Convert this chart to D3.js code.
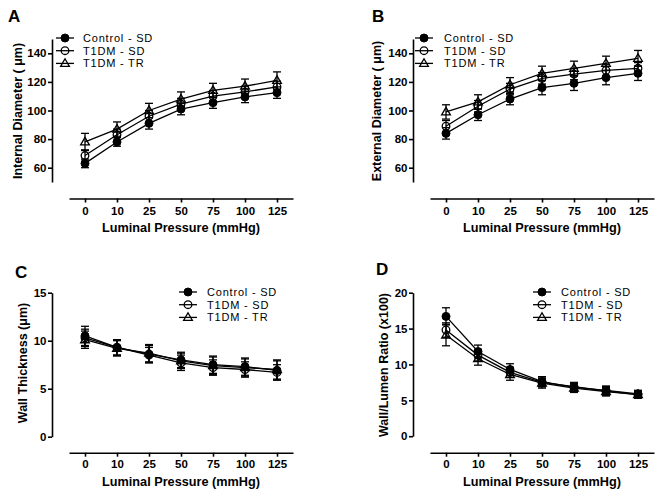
<!DOCTYPE html>
<html><head><meta charset="utf-8">
<script src="https://cdn.jsdelivr.net/npm/d3@7"></script>
<style>body{margin:0;background:#fff}svg{display:block}</style>
</head><body><svg id="c" width="662" height="499"></svg>
<script>
const pressures = ["0","10","25","50","75","100","125"];
const seriesNames = ["Control - SD","T1DM - SD","T1DM - TR"];

// A: Internal diameter (µm)
const idCtrl = [63, 78, 91, 101, 105.5, 109.5, 112.5];
const idSD   = [68.5, 83, 96, 104.5, 110, 113, 116.5];
const idTR   = [78, 87, 100, 108, 114, 117, 121];
const idCtrlErr = [3, 3, 4, 4, 4, 4, 4];
const idSDErr   = [4, 4, 4, 4, 4, 4, 4];
const idTRErr   = [6, 5, 5, 5, 5, 5, 6];

// B: External diameter (µm)
const edCtrl = [84, 97, 108, 116, 119, 123, 126];
const edSD   = [89, 103, 115, 122.5, 125.5, 128, 129.5];
const edTR   = [99, 106, 118, 126, 129.5, 133, 136.5];
const edCtrlErr = [4, 4, 4, 5, 5, 5, 5];
const edSDErr   = [4, 4, 4, 4, 4, 4, 4];
const edTRErr   = [5, 5, 5, 5, 5, 5, 5.5];

// C: Wall thickness (µm)
const wtCtrl = [10.5, 9.3, 8.6, 8.0, 7.5, 7.3, 6.9];
const wtSD   = [10.3, 9.3, 8.5, 7.7, 7.2, 7.0, 6.7];
const wtTR   = [10.1, 9.2, 8.7, 7.9, 7.4, 7.2, 7.0];
const wtCtrlErr = [1.0, 0.8, 0.9, 0.8, 0.9, 0.9, 1.0];
const wtSDErr   = [0.9, 0.8, 0.8, 0.8, 0.8, 0.8, 0.8];
const wtTRErr   = [0.9, 0.8, 0.9, 0.8, 0.9, 0.9, 1.0];

// D: Wall/Lumen ratio (x100)
const wlCtrl = [16.7, 11.8, 9.3, 7.6, 6.8, 6.4, 5.9];
const wlSD   = [14.8, 11.3, 8.9, 7.5, 6.9, 6.3, 5.8];
const wlTR   = [14.1, 10.8, 8.6, 7.4, 6.7, 6.2, 5.8];
const wlCtrlErr = [1.2, 0.9, 0.8, 0.7, 0.6, 0.6, 0.5];
const wlSDErr   = [1.0, 0.8, 0.7, 0.6, 0.6, 0.6, 0.5];
const wlTRErr   = [1.5, 0.9, 0.8, 0.7, 0.6, 0.6, 0.5];

const yTicksDiam = [60, 80, 100, 120, 140];
const yTicksWT = [0, 5, 10, 15];
const yTicksWL = [0, 5, 10, 15, 20];

const FONT = "Arial, 'Liberation Sans', sans-serif";
const svg = d3.select("#c");

const panels = [
  {label:"A", axX:52, xRange:[69,293], yRange:[182,39], yDomain:[50,150], yTicks:yTicksDiam,
   xAxisY:198.5, ytitle:"Internal Diameter  ( \u03bcm)", ytX:22, ytY:111, xtX:181, xtY:232, tickLabY:215,
   series:[[idCtrl,idCtrlErr],[idSD,idSDErr],[idTR,idTRErr]], leg:{x:65, y:38, tx:83}, labX:8, labY:22},
  {label:"B", axX:413, xRange:[430,654], yRange:[182,39], yDomain:[50,150], yTicks:yTicksDiam,
   xAxisY:198.5, ytitle:"External Diameter ( \u03bcm)", ytX:381, ytY:111, xtX:542, xtY:232, tickLabY:215,
   series:[[edCtrl,edCtrlErr],[edSD,edSDErr],[edTR,edTRErr]], leg:{x:424, y:38, tx:444}, labX:372, labY:22},
  {label:"C", axX:52, xRange:[69,293], yRange:[436.7,292.7], yDomain:[0,15], yTicks:yTicksWT,
   xAxisY:452.7, ytitle:"Wall Thickness (\u03bcm)", ytX:26.5, ytY:363, xtX:181, xtY:486, tickLabY:468,
   series:[[wtCtrl,wtCtrlErr],[wtSD,wtSDErr],[wtTR,wtTRErr]], leg:{x:188, y:292, tx:207}, labX:15, labY:278},
  {label:"D", axX:413, xRange:[430,654], yRange:[436.2,292.7], yDomain:[0,20], yTicks:yTicksWL,
   xAxisY:452.7, ytitle:"Wall/Lumen Ratio  (x100)", ytX:387.5, ytY:365, xtX:542, xtY:486, tickLabY:468,
   series:[[wlCtrl,wlCtrlErr],[wlSD,wlSDErr],[wlTR,wlTRErr]], leg:{x:542, y:292, tx:561}, labX:376, labY:275}
];

function drawMarker(g, kind, cx, cy) {
  if (kind === 0) {
    g.append("circle").attr("cx",cx).attr("cy",cy).attr("r",4).attr("fill","#000").attr("stroke","#000").attr("stroke-width",1);
  } else if (kind === 1) {
    g.append("circle").attr("cx",cx).attr("cy",cy).attr("r",3.8).attr("fill","none").attr("stroke","#000").attr("stroke-width",1.3);
  } else {
    const s = 4.6;
    g.append("path").attr("d", `M${cx},${cy-s}L${cx+s*0.95},${cy+s*0.65}L${cx-s*0.95},${cy+s*0.65}Z`)
      .attr("fill","none").attr("stroke","#000").attr("stroke-width",1.3);
  }
}

panels.forEach(p => {
  const g = svg.append("g");
  const x = d3.scalePoint().domain(pressures).range(p.xRange).padding(0.5);
  const y = d3.scaleLinear().domain(p.yDomain).range(p.yRange);

  // y axis
  const ya = g.append("g").attr("transform",`translate(${p.axX},0)`)
    .call(d3.axisLeft(y).tickValues(p.yTicks).tickSize(4).tickSizeOuter(0).tickFormat(d3.format("d")));
  ya.select(".domain").attr("stroke","#000").attr("stroke-width",1.6);
  ya.selectAll(".tick line").attr("stroke","#000").attr("stroke-width",1.6);
  ya.selectAll(".tick text").attr("font-family",FONT).attr("font-size",11.5).attr("font-weight","bold").attr("fill","#000").attr("x",-5.5);

  // x axis
  const xa = g.append("g").attr("transform",`translate(0,${p.xAxisY})`)
    .call(d3.axisBottom(x).tickSize(4).tickSizeOuter(0));
  xa.select(".domain").attr("stroke","#000").attr("stroke-width",1.6);
  xa.selectAll(".tick line").attr("stroke","#000").attr("stroke-width",1.6);
  xa.selectAll(".tick text").attr("font-family",FONT).attr("font-size",11.5).attr("font-weight","bold").attr("fill","#000")
    .attr("dy",null).attr("y", p.tickLabY - p.xAxisY);

  // titles
  g.append("text").attr("x",p.xtX).attr("y",p.xtY).attr("text-anchor","middle")
    .attr("font-family",FONT).attr("font-size",12.7).attr("font-weight","bold").text("Luminal Pressure (mmHg)");
  g.append("text").attr("transform",`translate(${p.ytX},${p.ytY}) rotate(-90)`).attr("text-anchor","middle")
    .attr("font-family",FONT).attr("font-size",12.5).attr("font-weight","bold").text(p.ytitle);
  g.append("text").attr("x",p.labX).attr("y",p.labY).attr("font-family",FONT).attr("font-size",17)
    .attr("font-weight","bold").text(p.label);

  const line = d3.line().x((d,i)=>x(pressures[i])).y(d=>y(d));
  p.series.forEach(([vals, errs], k) => {
    g.append("path").datum(vals).attr("d", line).attr("fill","none").attr("stroke","#000").attr("stroke-width",1.3);
  });
  p.series.forEach(([vals, errs], k) => {
    vals.forEach((v,i) => {
      const cx = x(pressures[i]);
      const yt = y(v+errs[i]), yb = y(v-errs[i]);
      g.append("line").attr("x1",cx).attr("x2",cx).attr("y1",yt).attr("y2",yb).attr("stroke","#000").attr("stroke-width",1.3);
      g.append("line").attr("x1",cx-4).attr("x2",cx+4).attr("y1",yt).attr("y2",yt).attr("stroke","#000").attr("stroke-width",1.3);
      g.append("line").attr("x1",cx-4).attr("x2",cx+4).attr("y1",yb).attr("y2",yb).attr("stroke","#000").attr("stroke-width",1.3);
    });
  });
  p.series.forEach(([vals, errs], k) => {
    vals.forEach((v,i) => drawMarker(g, k, x(pressures[i]), y(v)));
  });

  // legend
  seriesNames.forEach((name, k) => {
    const ly = p.leg.y + k*12.7;
    g.append("line").attr("x1",p.leg.x-9).attr("x2",p.leg.x+9).attr("y1",ly).attr("y2",ly).attr("stroke","#000").attr("stroke-width",1.3);
    drawMarker(g, k, p.leg.x, ly);
    g.append("text").attr("x",p.leg.tx).attr("y",ly+4).attr("font-family",FONT).attr("font-size",11)
      .attr("letter-spacing",0.8).text(name);
  });
});
</script></body></html>
